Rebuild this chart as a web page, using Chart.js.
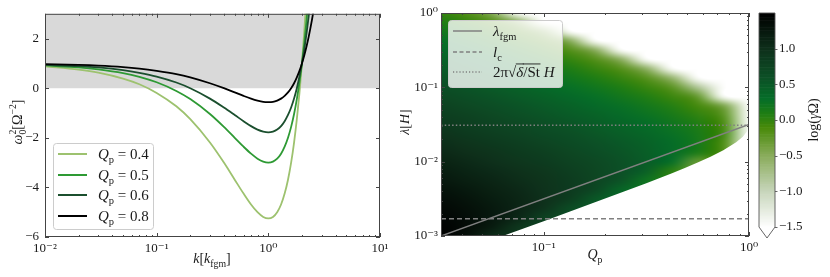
<!DOCTYPE html>
<html>
<head>
<meta charset="utf-8">
<script src="https://cdn.jsdelivr.net/npm/chart.js@4.4.1/dist/chart.umd.min.js"></script>
<style>
  html, body { margin: 0; padding: 0; background: #fff; width: 830px; height: 277px; overflow: hidden; }
  canvas { position: absolute; top: 0; }
</style>
</head>
<body>
<canvas id="dispersion" width="400" height="277" style="left:0"></canvas>
<canvas id="growth" width="380" height="277" style="left:400px"></canvas>
<canvas id="cbar" width="75" height="277" style="left:755px"></canvas>
<script>
const FONT = '"Liberation Serif", "DejaVu Serif", serif'
const INK = "#1a1a1a"

// ---- left panel: omega_0^2 against k ----
const kValues = [0.01, 0.02, 0.03, 0.05, 0.07, 0.1, 0.15, 0.2, 0.3, 0.4,
  0.5, 0.6, 0.7, 0.8, 0.9, 1.0, 1.1, 1.2, 1.3, 1.4, 1.5, 1.6, 1.7, 1.8, 1.9, 2.0,
  2.1, 2.2, 2.3, 2.4, 2.5, 2.6]
const omegaQ04 = [0.88, 0.75, 0.63, 0.39, 0.16, -0.19, -0.73, -1.25, -2.19, -3.0,
  -3.69, -4.25, -4.69, -5.0, -5.19, -5.25, -5.19, -5.0, -4.69, -4.25, -3.69, -3.0, -2.19, -1.25, -0.19, 1.0,
  2.31, 3.75, 5.31, 7.0, 8.81, 10.75]
const omegaQ05 = [0.92, 0.84, 0.76, 0.61, 0.46, 0.24, -0.11, -0.44, -1.04, -1.56,
  -2.0, -2.36, -2.64, -2.84, -2.96, -3.0, -2.96, -2.84, -2.64, -2.36, -2.0, -1.56, -1.04, -0.44, 0.24, 1.0,
  1.84, 2.76, 3.76, 4.84, 6.0, 7.24]
const omegaQ06 = [0.94, 0.89, 0.84, 0.73, 0.62, 0.47, 0.23, 0.0, -0.42, -0.78,
  -1.08, -1.33, -1.53, -1.67, -1.75, -1.78, -1.75, -1.67, -1.53, -1.33, -1.08, -0.78, -0.42, 0.0, 0.47, 1.0,
  1.58, 2.22, 2.92, 3.67, 4.47, 5.33]
const omegaQ08 = [0.97, 0.94, 0.91, 0.85, 0.79, 0.70, 0.57, 0.44, 0.20, 0.0,
  -0.17, -0.31, -0.42, -0.50, -0.55, -0.56, -0.55, -0.50, -0.42, -0.31, -0.17, 0.0, 0.20, 0.44, 0.70, 1.0,
  1.33, 1.69, 2.08, 2.50, 2.95, 3.44]
const qpLabels = ["0.4", "0.5", "0.6", "0.8"]
const curveColors = ["#9dc26f", "#2e9a34", "#1b4f2e", "#000000"]

const leftXTicks = [0.01, 0.1, 1, 10]
const leftXTickLabels = ["10⁻²", "10⁻¹", "10⁰", "10¹"]
const leftYTicks = [-6, -4, -2, 0, 2]
const leftYTickLabels = ["−6", "−4", "−2", "0", "2"]

// ---- right panel: log(gamma Omega) over (Q_p, lambda) ----
const heatQ = [0.0316, 0.0422, 0.0562, 0.0750, 0.1000, 0.1334, 0.1778, 0.2371, 0.3162, 0.4217, 0.5623, 0.7499, 1.0000]
const heatLam = [1, 0.750, 0.562, 0.422, 0.316, 0.237, 0.178, 0.133, 0.100, 0.0750, 0.0562, 0.0422,
  0.0316, 0.0237, 0.0178, 0.0133, 0.0100, 0.00750, 0.00562, 0.00422, 0.00316, 0.00237, 0.00178, 0.00133, 0.00100]
const _ = null
// one column per heatQ entry, rows follow heatLam (top to bottom)
const growthCols = [
  [0.00, 0.11, 0.20, 0.29, 0.36, 0.44, 0.50, 0.57, 0.64, 0.70, 0.77, 0.83, 0.89, 0.96, 1.02, 1.08, 1.14, 1.20, 1.25, 1.31, 1.36, 1.41, 1.45, 1.49, 1.50],
  [-0.15, 0.00, 0.11, 0.20, 0.29, 0.36, 0.43, 0.50, 0.57, 0.64, 0.70, 0.77, 0.83, 0.89, 0.95, 1.01, 1.07, 1.13, 1.18, 1.24, 1.29, 1.33, 1.36, 1.37, 1.35],
  [-0.45, -0.15, 0.00, 0.11, 0.20, 0.29, 0.36, 0.43, 0.50, 0.57, 0.64, 0.70, 0.76, 0.82, 0.89, 0.95, 1.00, 1.06, 1.11, 1.16, 1.20, 1.24, 1.25, 1.22, 1.05],
  [_, -0.46, -0.15, 0.00, 0.11, 0.20, 0.28, 0.36, 0.43, 0.50, 0.57, 0.63, 0.70, 0.76, 0.82, 0.88, 0.93, 0.99, 1.03, 1.08, 1.11, 1.12, 1.10, 0.92, _],
  [_, _, -0.46, -0.15, 0.00, 0.11, 0.20, 0.28, 0.36, 0.43, 0.50, 0.56, 0.63, 0.69, 0.75, 0.81, 0.86, 0.91, 0.95, 0.98, 1.00, 0.97, 0.79, _, _],
  [_, _, _, -0.46, -0.16, 0.00, 0.11, 0.20, 0.28, 0.36, 0.43, 0.49, 0.56, 0.62, 0.68, 0.73, 0.78, 0.82, 0.86, 0.87, 0.85, 0.66, _, _, _],
  [_, _, _, _, -0.47, -0.16, -0.01, 0.10, 0.20, 0.28, 0.35, 0.42, 0.48, 0.54, 0.60, 0.65, 0.70, 0.73, 0.74, 0.72, 0.53, _, _, _, _],
  [_, _, _, _, _, -0.49, -0.16, -0.01, 0.10, 0.19, 0.27, 0.34, 0.40, 0.46, 0.52, 0.56, 0.60, 0.61, 0.59, 0.39, _, _, _, _, _],
  [_, _, _, _, _, _, -0.52, -0.18, -0.02, 0.09, 0.18, 0.25, 0.32, 0.38, 0.43, 0.46, 0.48, 0.45, 0.23, _, _, _, _, _, _],
  [_, _, _, _, _, _, _, -0.58, -0.20, -0.04, 0.07, 0.15, 0.22, 0.27, 0.32, 0.33, 0.30, 0.04, _, _, _, _, _, _, _],
  [_, _, _, _, _, _, _, _, -0.80, -0.25, -0.08, 0.02, 0.10, 0.15, 0.17, 0.13, -0.30, _, _, _, _, _, _, _, _],
  [_, _, _, _, _, _, _, _, _, _, -0.37, -0.18, -0.09, -0.05, -0.12, _, _, _, _, _, _, _, _, _, _],
  [_, _, _, _, _, _, _, _, _, _, _, _, _, _, _, _, _, _, _, _, _, _, _, _, _],
]
// sharp lower edge of the unstable region
const lowEdgeQ = [0.0316, 0.0422, 0.0562, 0.0750, 0.1, 0.1334, 0.1778, 0.2371, 0.3162, 0.4217, 0.4870,
  0.5623, 0.6494, 0.7499, 0.8660, 0.9333, 0.9772, 1.0]
const lowEdgeLam = [0.0005, 0.000667, 0.00089, 0.001188, 0.001585, 0.002118, 0.002835, 0.003804, 0.005132,
  0.006993, 0.00822, 0.009734, 0.01167, 0.01427, 0.01825, 0.02172, 0.02549, 0.03162]

const fgmQ = [0.0316, 1]
const fgmLam = [0.001, 0.0316]
const lcLam = 0.0017
const diffLam = 0.031

const rightXTicks = [0.1, 1]
const rightXTickLabels = ["10⁻¹", "10⁰"]
const rightYTicks = [0.001, 0.01, 0.1, 1]
const rightYTickLabels = ["10⁻³", "10⁻²", "10⁻¹", "10⁰"]
const cbarTicks = [-1.5, -1.0, -0.5, 0.0, 0.5, 1.0]
const cbarTickLabels = ["−1.5", "−1.0", "−0.5", "0.0", "0.5", "1.0"]

// colour map of the picture (white -> olive -> green -> black)
const cmapStops = [-1.5, -1.0, -0.5, -0.1, 0.1, 0.3, 0.6, 1.0, 1.5]
const cmapRGB = [[255, 255, 255], [200, 214, 188], [138, 172, 92], [72, 138, 10], [30, 125, 20],
  [5, 110, 40], [12, 80, 38], [14, 48, 27], [0, 0, 0]]

function cmap(v) {
  if (v <= cmapStops[0]) return cmapRGB[0]
  const n = cmapStops.length
  if (v >= cmapStops[n - 1]) return cmapRGB[n - 1]
  let i = 0
  while (v > cmapStops[i + 1]) i++
  const t = (v - cmapStops[i]) / (cmapStops[i + 1] - cmapStops[i])
  return cmapRGB[i].map((c, j) => Math.round(c + t * (cmapRGB[i + 1][j] - c)))
}

function logMinors(lo, hi) {
  const out = []
  for (let d = Math.floor(Math.log10(lo)); d < Math.ceil(Math.log10(hi)); d++) {
    for (let m = 2; m <= 9; m++) {
      const v = m * Math.pow(10, d)
      if (v > lo && v < hi) out.push(v)
    }
  }
  return out
}

// text with italics, sub- and superscripts
function drawRich(ctx, parts, x, y, size, align) {
  const fontOf = p => (p.i ? "italic " : "") + ((p.sub || p.sup) ? size * 0.7 : size) + "px " + FONT
  const laid = []
  let cx = 0, prevStart = 0, prevW = 0
  for (const p of parts) {
    ctx.font = fontOf(p)
    const w = ctx.measureText(p.t).width
    let px
    if (p.over) { px = prevStart; cx = prevStart + Math.max(prevW, w) }
    else { px = cx; prevStart = cx; prevW = w; cx += w }
    laid.push({ p, px, w })
  }
  const x0 = align === "center" ? x - cx / 2 : align === "right" ? x - cx : x
  ctx.textAlign = "left"
  ctx.textBaseline = "alphabetic"
  for (const { p, px, w } of laid) {
    ctx.font = fontOf(p)
    const dy = p.sub ? size * 0.28 : p.sup ? -size * 0.42 : 0
    ctx.fillText(p.t, x0 + px, y + dy)
    if (p.bar) ctx.fillRect(x0 + px - 0.5, y - size * 0.9, w + 1, 0.9)
  }
}

function makeLabels(items) {
  return {
    id: "labels",
    afterDraw(chart) {
      const ctx = chart.ctx
      for (const it of items) {
        ctx.save()
        ctx.fillStyle = INK
        ctx.translate(it.x, it.y)
        if (it.rot) ctx.rotate(it.rot)
        drawRich(ctx, it.parts, 0, 0, it.size || 14, "center")
        ctx.restore()
      }
    },
  }
}

function makeFrame(t) {
  return {
    id: "frame",
    afterDatasetsDraw(chart) {
      const { ctx, chartArea: a } = chart
      const sx = chart.scales.x, sy = chart.scales.y
      ctx.save()
      ctx.strokeStyle = "#444"
      ctx.lineWidth = 1
      ctx.beginPath()
      const xt = (vals, len) => vals.forEach(v => {
        const x = Math.round(sx.getPixelForValue(v)) + 0.5
        ctx.moveTo(x, a.bottom); ctx.lineTo(x, a.bottom - len)
        ctx.moveTo(x, a.top); ctx.lineTo(x, a.top + len)
      })
      const yt = (vals, len) => vals.forEach(v => {
        const y = Math.round(sy.getPixelForValue(v)) + 0.5
        ctx.moveTo(a.left, y); ctx.lineTo(a.left + len, y)
        ctx.moveTo(a.right, y); ctx.lineTo(a.right - len, y)
      })
      xt(t.xMajor, 4); xt(t.xMinor, 2)
      yt(t.yMajor, 4); yt(t.yMinor, 2)
      ctx.stroke()
      ctx.strokeRect(a.left + 0.5, a.top + 0.5, a.right - a.left - 1, a.bottom - a.top - 1)
      ctx.restore()
    },
  }
}

function makeLegend(box, entries) {
  return {
    id: "boxLegend",
    afterDraw(chart) {
      const ctx = chart.ctx
      ctx.save()
      ctx.fillStyle = "rgba(255,255,255,0.8)"
      ctx.strokeStyle = "#cccccc"
      ctx.lineWidth = 1
      ctx.beginPath()
      ctx.roundRect(box.x + 0.5, box.y + 0.5, box.w, box.h, 3)
      ctx.fill()
      ctx.stroke()
      for (const e of entries) {
        ctx.beginPath()
        ctx.setLineDash(e.dash || [])
        ctx.strokeStyle = e.color
        ctx.lineWidth = e.width
        ctx.moveTo(box.x + 5, e.y)
        ctx.lineTo(box.x + 34, e.y)
        ctx.stroke()
        ctx.setLineDash([])
        ctx.fillStyle = INK
        drawRich(ctx, e.parts, box.x + 45, e.y + 5, 15, "left")
      }
      ctx.restore()
    },
  }
}

const tickFont = { family: FONT, size: 13 }

// ================= left chart =================
const omegaSets = [omegaQ04, omegaQ05, omegaQ06, omegaQ08]
new Chart(document.getElementById("dispersion"), {
  type: "line",
  data: {
    datasets: [
      ...omegaSets.map((vals, i) => ({
        label: "Qp = " + qpLabels[i],
        data: kValues.map((k, j) => ({ x: k, y: vals[j] })),
        borderColor: curveColors[i],
        borderWidth: 1.8,
        pointRadius: 0,
        cubicInterpolationMode: "monotone",
        fill: false,
        order: 4 - i,
      })),
      {
        label: "stable",
        data: [{ x: 0.01, y: 3 }, { x: 10, y: 3 }],
        borderWidth: 0,
        pointRadius: 0,
        backgroundColor: "#d9d9d9",
        fill: { value: 0 },
        order: 10,
      },
    ],
  },
  options: {
    responsive: false,
    animation: false,
    layout: { padding: { top: 12, right: 20, left: 0, bottom: 0 } },
    plugins: { legend: { display: false }, tooltip: { enabled: false } },
    scales: {
      x: {
        type: "logarithmic", min: 0.01, max: 10,
        grid: { display: false, drawTicks: false }, border: { display: false },
        afterFit: s => { s.height = 40 },
        afterBuildTicks: s => { s.ticks = leftXTicks.map(v => ({ value: v })) },
        ticks: { callback: (v, i) => leftXTickLabels[i], font: tickFont, color: INK, padding: 4, maxRotation: 0, autoSkip: false },
      },
      y: {
        min: -6, max: 3,
        grid: { display: false, drawTicks: false }, border: { display: false },
        afterFit: s => { s.width = 45 },
        afterBuildTicks: s => { s.ticks = leftYTicks.map(v => ({ value: v })) },
        ticks: { callback: (v, i) => leftYTickLabels[i], font: tickFont, color: INK, padding: 6, autoSkip: false },
      },
    },
  },
  plugins: [
    makeFrame({ xMajor: leftXTicks, xMinor: logMinors(0.01, 10), yMajor: leftYTicks, yMinor: [] }),
    makeLegend({ x: 53, y: 143, w: 100, h: 86 }, qpLabels.map((q, i) => ({
      color: curveColors[i], width: 2, y: [154, 175, 195, 216][i],
      parts: [{ t: "Q", i: true }, { t: "p", sub: true }, { t: " = " + q }],
    }))),
    makeLabels([
      { x: 212, y: 263, parts: [{ t: "k", i: true }, { t: "[" }, { t: "k", i: true }, { t: "fgm", sub: true }, { t: "]" }] },
      { x: 22, y: 122, rot: -Math.PI / 2, parts: [{ t: "ω", i: true }, { t: "0", sub: true }, { t: "2", sup: true, over: true },
        { t: "[Ω" }, { t: "−2", sup: true }, { t: "]" }] },
    ]),
  ],
})

// ================= right chart =================
const qMin = Math.pow(10, -1.5)

const heatmap = {
  id: "heatmap",
  beforeDatasetsDraw(chart) {
    const { ctx, chartArea: a, scales: { x, y } } = chart
    const nc = heatQ.length, nr = heatLam.length
    const off = document.createElement("canvas")
    off.width = nc
    off.height = nr
    const octx = off.getContext("2d")
    const img = octx.createImageData(nc, nr)
    for (let c = 0; c < nc; c++) {
      let last = null
      for (let r = 0; r < nr; r++) {
        let v = growthCols[c][r]
        if (v === null) v = last
        else last = v
        const col = v === null ? [255, 255, 255] : cmap(v)
        const k = (r * nc + c) * 4
        img.data[k] = col[0]; img.data[k + 1] = col[1]; img.data[k + 2] = col[2]; img.data[k + 3] = 255
      }
    }
    octx.putImageData(img, 0, 0)
    const x0 = x.getPixelForValue(heatQ[0]), x1 = x.getPixelForValue(heatQ[nc - 1])
    const y0 = y.getPixelForValue(heatLam[0]), y1 = y.getPixelForValue(heatLam[nr - 1])
    const dx = (x1 - x0) / (nc - 1), dy = (y1 - y0) / (nr - 1)
    ctx.save()
    ctx.beginPath()
    ctx.rect(a.left, a.top, a.right - a.left, a.bottom - a.top)
    ctx.clip()
    ctx.beginPath()
    ctx.moveTo(x.getPixelForValue(lowEdgeQ[0]), a.top - 10)
    lowEdgeQ.forEach((q, i) => ctx.lineTo(x.getPixelForValue(q), y.getPixelForValue(lowEdgeLam[i])))
    ctx.lineTo(x.getPixelForValue(lowEdgeQ[lowEdgeQ.length - 1]), a.top - 10)
    ctx.closePath()
    ctx.clip()
    ctx.imageSmoothingEnabled = true
    ctx.imageSmoothingQuality = "high"
    ctx.drawImage(off, x0 - dx / 2, y0 - dy / 2, dx * nc, dy * nr)
    ctx.restore()
  },
}

const lineStyle = { borderColor: "#808080", borderWidth: 1.5, pointRadius: 0, fill: false }
new Chart(document.getElementById("growth"), {
  type: "line",
  data: {
    datasets: [
      { label: "lambda_fgm", data: fgmQ.map((q, i) => ({ x: q, y: fgmLam[i] })), ...lineStyle },
      { label: "l_c", data: [{ x: qMin, y: lcLam }, { x: 1, y: lcLam }], ...lineStyle, borderDash: [5, 3] },
      { label: "diffusion", data: [{ x: qMin, y: diffLam }, { x: 1, y: diffLam }], ...lineStyle, borderDash: [1.5, 2.2] },
    ],
  },
  options: {
    responsive: false,
    animation: false,
    layout: { padding: { top: 13, right: 31, left: 0, bottom: 0 } },
    plugins: { legend: { display: false }, tooltip: { enabled: false } },
    scales: {
      x: {
        type: "logarithmic", min: qMin, max: 1,
        grid: { display: false, drawTicks: false }, border: { display: false },
        afterFit: s => { s.height = 41 },
        afterBuildTicks: s => { s.ticks = rightXTicks.map(v => ({ value: v })) },
        ticks: { callback: (v, i) => rightXTickLabels[i], font: tickFont, color: INK, padding: 4, maxRotation: 0, autoSkip: false },
      },
      y: {
        type: "logarithmic", min: 0.001, max: 1,
        grid: { display: false, drawTicks: false }, border: { display: false },
        afterFit: s => { s.width = 41 },
        afterBuildTicks: s => { s.ticks = rightYTicks.map(v => ({ value: v })) },
        ticks: { callback: (v, i) => rightYTickLabels[i], font: tickFont, color: INK, padding: 3, autoSkip: false },
      },
    },
  },
  plugins: [
    heatmap,
    makeFrame({ xMajor: rightXTicks, xMinor: logMinors(qMin, 1), yMajor: rightYTicks, yMinor: logMinors(0.001, 1) }),
    makeLegend({ x: 48, y: 20, w: 114, h: 67 }, [
      { color: "#808080", width: 1.5, y: 31, parts: [{ t: "λ", i: true }, { t: "fgm", sub: true }] },
      { color: "#808080", width: 1.5, y: 52, dash: [4, 2.5], parts: [{ t: "l", i: true }, { t: "c", sub: true }] },
      { color: "#808080", width: 1.5, y: 72, dash: [1.2, 2], parts: [{ t: "2π" }, { t: "√" },
        { t: "δ", i: true, bar: true }, { t: "/St", bar: true }, { t: " " }, { t: "H", i: true }] },
    ]),
    makeLabels([
      { x: 195, y: 259, parts: [{ t: "Q", i: true }, { t: "p", sub: true }] },
      { x: 9, y: 122, rot: -Math.PI / 2, parts: [{ t: "λ", i: true }, { t: "[" }, { t: "H", i: true }, { t: "]" }] },
    ]),
  ],
})

// ================= colour bar =================
const cbarPlugin = {
  id: "cbarFill",
  afterDatasetsDraw(chart) {
    const { ctx, chartArea: a, scales: { y } } = chart
    const vMin = cbarTicks[0], vMax = 1.5, n = 150
    ctx.save()
    for (let i = 0; i < n; i++) {
      const v0 = vMin + (vMax - vMin) * i / n, v1 = vMin + (vMax - vMin) * (i + 1) / n
      const ya = y.getPixelForValue(v1), yb = y.getPixelForValue(v0)
      const c = cmap((v0 + v1) / 2)
      ctx.fillStyle = `rgb(${c[0]},${c[1]},${c[2]})`
      ctx.fillRect(a.left, ya, a.right - a.left, yb - ya + 0.6)
    }
    const mid = (a.left + a.right) / 2
    ctx.fillStyle = "#fff"
    ctx.beginPath()
    ctx.moveTo(a.left, a.bottom); ctx.lineTo(mid, a.bottom + 11); ctx.lineTo(a.right, a.bottom)
    ctx.fill()
    ctx.strokeStyle = "#555"
    ctx.lineWidth = 0.9
    ctx.beginPath()
    ctx.moveTo(a.left, a.top); ctx.lineTo(a.right, a.top); ctx.lineTo(a.right, a.bottom)
    ctx.lineTo(mid, a.bottom + 11); ctx.lineTo(a.left, a.bottom); ctx.closePath()
    ctx.stroke()
    ctx.beginPath()
    cbarTicks.forEach(v => {
      const yy = Math.round(y.getPixelForValue(v)) + 0.5
      ctx.moveTo(a.right, yy); ctx.lineTo(a.right + 2.5, yy)
    })
    ctx.stroke()
    ctx.restore()
  },
}

new Chart(document.getElementById("cbar"), {
  type: "scatter",
  data: { datasets: [] },
  options: {
    responsive: false,
    animation: false,
    layout: { padding: { top: 13, left: 4, right: 0, bottom: 50 } },
    plugins: { legend: { display: false }, tooltip: { enabled: false } },
    scales: {
      x: { display: false, min: 0, max: 1 },
      y: {
        position: "right", min: -1.5, max: 1.5,
        grid: { display: false, drawTicks: false }, border: { display: false },
        afterFit: s => { s.width = 55 },
        afterBuildTicks: s => { s.ticks = cbarTicks.map(v => ({ value: v })) },
        ticks: { callback: (v, i) => cbarTickLabels[i], font: tickFont, color: INK, padding: 4, autoSkip: false },
      },
    },
  },
  plugins: [
    cbarPlugin,
    makeLabels([
      { x: 63, y: 120, rot: -Math.PI / 2, parts: [{ t: "log(" }, { t: "γ", i: true }, { t: "Ω)" }] },
    ]),
  ],
})
</script>
</body>
</html>
